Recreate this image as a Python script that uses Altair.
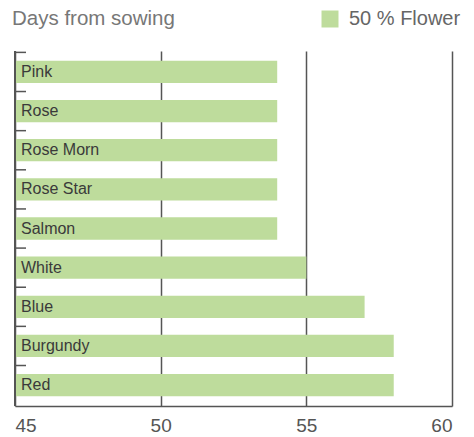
import altair as alt
import pandas as pd

varieties = ["Pink", "Rose", "Rose Morn", "Rose Star", "Salmon", "White", "Blue", "Burgundy", "Red"]
days = [54, 54, 54, 54, 54, 55, 57, 58, 58]
series_name = "50 % Flower"
chart_title = "Days from sowing"
x_ticks = [45, 50, 55, 60]
x_start = 45

df = pd.DataFrame({"variety": varieties, "days": days, "series": [series_name] * len(varieties)})
title_df = pd.DataFrame({"t": [chart_title]})

FONT = "Liberation Sans"
BAR = "#bedc9c"
LINE = "#555555"

yenc = alt.Y("variety:N", sort=varieties,
             scale=alt.Scale(paddingInner=0.43, paddingOuter=0.25),
             axis=None)

xscale = alt.Scale(domain=[45, 60], zero=False, nice=False)

bars = alt.Chart(df).mark_bar().encode(
    x=alt.X("days:Q", scale=xscale,
            axis=alt.Axis(values=x_ticks, grid=True, gridColor=LINE, gridWidth=1.5,
                          domainColor=LINE, domainWidth=1.5, ticks=False, tickSize=0,
                          labelPadding=10, labelFlush=True, labelFontSize=19,
                          labelColor="#555555", labelFont=FONT, title=None)),
    x2=alt.datum(x_start),
    y=yenc,
    color=alt.Color("series:N", scale=alt.Scale(range=[BAR]),
                    legend=alt.Legend(title=None, orient="none", legendX=305, legendY=-42,
                                      symbolType="square", symbolSize=289,
                                      symbolStrokeWidth=0, labelFontSize=20,
                                      labelColor="#666666", labelFont=FONT,
                                      labelOffset=9, padding=0)),
)

left_line = alt.Chart(df).mark_rule(color=LINE, strokeWidth=1.5).encode(
    x=alt.datum(x_start)
)

ticks = alt.Chart(df).mark_rule(color=LINE, strokeWidth=1.5, yOffset=-8.4).encode(
    y=alt.Y("variety:N", sort=varieties, bandPosition=0),
    x=alt.value(0),
    x2=alt.value(11),
)

labels = alt.Chart(df).mark_text(align="left", baseline="middle", fontSize=16,
                                 font=FONT, color="#3a3a3a").encode(
    y=alt.Y("variety:N", sort=varieties),
    x=alt.value(6),
    text="variety:N",
)

title = alt.Chart(title_df).mark_text(align="left", baseline="alphabetic", fontSize=20.5,
                                      font=FONT, color="#777777").encode(
    x=alt.value(-3),
    y=alt.value(-26),
    text="t:N",
)

chart = alt.layer(bars, left_line, ticks, labels, title).properties(
    width=437, height=355,
    padding={"left": 7, "top": 43, "right": 14, "bottom": 30},
    autosize=alt.AutoSizeParams(type="none"),
).configure_view(stroke=None)

chart.save("out.html", embed_options={"renderer": "svg", "actions": False})
